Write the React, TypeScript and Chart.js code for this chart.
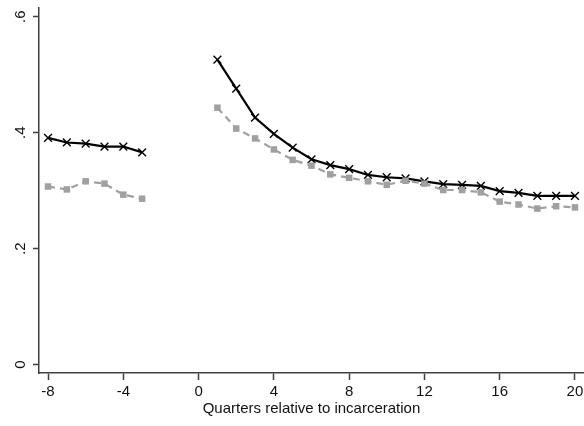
import React, { useEffect, useRef } from "react";
import { Chart, registerables } from "chart.js";

Chart.register(...registerables);

const preQuarters = [-8, -7, -6, -5, -4, -3];
const postQuarters = [1, 2, 3, 4, 5, 6, 7, 8, 9, 10, 11, 12, 13, 14, 15, 16, 17, 18, 19, 20];

const blackPre = [0.391, 0.383, 0.381, 0.376, 0.376, 0.366];
const blackPost = [0.526, 0.476, 0.426, 0.398, 0.374, 0.354, 0.344, 0.337, 0.327, 0.323, 0.321, 0.316, 0.311, 0.310, 0.308, 0.299, 0.296, 0.291, 0.291, 0.291];

const grayPre = [0.307, 0.302, 0.316, 0.312, 0.293, 0.286];
const grayPost = [0.443, 0.407, 0.390, 0.371, 0.353, 0.343, 0.328, 0.322, 0.316, 0.310, 0.317, 0.312, 0.301, 0.301, 0.297, 0.281, 0.276, 0.269, 0.273, 0.271];

const xTicks = [-8, -4, 0, 4, 8, 12, 16, 20];
const yTicks = [0, 0.2, 0.4, 0.6];
const yTickLabels = ["0", ".2", ".4", ".6"];
const xTitle = "Quarters relative to incarceration";

const FONT = "'Liberation Sans', Arial, sans-serif";
const AXIS_COLOR = "#404040";
const BLACK = "#000000";
const GRAY = "#a0a0a0";

const pts = (xs: number[], ys: number[]) => xs.map((x, i) => ({ x, y: ys[i] }));

export default function App() {
  const ref = useRef<HTMLCanvasElement | null>(null);

  useEffect(() => {
    document.body.style.margin = "0";
    const canvas = ref.current;
    if (!canvas) return;

    const yLabelPlugin = {
      id: "yLabels",
      afterDraw(chart: any) {
        const ctx = chart.ctx;
        const ys = chart.scales.y;
        ctx.save();
        ctx.fillStyle = "#111";
        ctx.font = `15px ${FONT}`;
        ctx.textAlign = "center";
        ctx.textBaseline = "middle";
        yTicks.forEach((v, i) => {
          const py = ys.getPixelForValue(v);
          ctx.save();
          ctx.translate(21, py);
          ctx.rotate(-Math.PI / 2);
          ctx.fillText(yTickLabels[i], 0, 0);
          ctx.restore();
        });
        ctx.restore();
      },
    };

    const blackStyle = {
      borderColor: BLACK,
      backgroundColor: BLACK,
      borderWidth: 2.2,
      pointStyle: "crossRot" as const,
      pointRadius: 5.5,
      pointBorderWidth: 1.4,
      pointBorderColor: BLACK,
      tension: 0,
    };
    const grayStyle = {
      borderColor: GRAY,
      backgroundColor: GRAY,
      borderWidth: 2.2,
      borderDash: [7, 5],
      pointStyle: "rect" as const,
      pointRadius: 4.6,
      pointBorderWidth: 0,
      pointBackgroundColor: GRAY,
      tension: 0,
    };

    const chart = new Chart(canvas, {
      type: "line",
      data: {
        datasets: [
          { ...grayStyle, label: "gray pre", data: pts(preQuarters, grayPre) },
          { ...grayStyle, label: "gray post", data: pts(postQuarters, grayPost) },
          { ...blackStyle, label: "black pre", data: pts(preQuarters, blackPre) },
          { ...blackStyle, label: "black post", data: pts(postQuarters, blackPost) },
        ],
      },
      options: {
        animation: false,
        responsive: false,
        maintainAspectRatio: false,
        layout: { autoPadding: false, padding: { top: 8, right: 0, left: 0, bottom: 0 } },
        plugins: {
          legend: { display: false },
          tooltip: { enabled: false },
        },
        scales: {
          x: {
            type: "linear",
            min: -8.48,
            max: 20.48,
            afterBuildTicks: (scale: any) => {
              scale.ticks = xTicks.map((v) => ({ value: v }));
            },
            afterFit: (scale: any) => {
              scale.height = 53;
              scale.paddingLeft = 0;
              scale.paddingRight = 0;
            },
            grid: {
              drawOnChartArea: false,
              drawTicks: true,
              tickLength: 7,
              tickColor: AXIS_COLOR,
              tickWidth: 1.5,
            },
            border: { display: true, color: AXIS_COLOR, width: 1.5 },
            ticks: {
              color: "#111",
              font: { family: FONT, size: 15 },
              padding: 3,
              maxRotation: 0,
              minRotation: 0,
              autoSkip: false,
            },
            title: {
              display: true,
              text: xTitle,
              color: "#111",
              font: { family: FONT, size: 15 },
              padding: { top: 0, bottom: 8 },
            },
          },
          y: {
            type: "linear",
            min: -0.0147,
            max: 0.615,
            afterBuildTicks: (scale: any) => {
              scale.ticks = yTicks.map((v) => ({ value: v }));
            },
            afterFit: (scale: any) => {
              scale.width = 39;
              scale.paddingTop = 0;
              scale.paddingBottom = 0;
            },
            grid: {
              drawOnChartArea: false,
              drawTicks: true,
              tickLength: 6,
              tickColor: AXIS_COLOR,
              tickWidth: 1.5,
            },
            border: { display: true, color: AXIS_COLOR, width: 1.5 },
            ticks: { display: false },
          },
        },
      },
      plugins: [yLabelPlugin],
    });

    return () => chart.destroy();
  }, []);

  return (
    <div style={{ width: 584, height: 426, background: "#fff" }}>
      <canvas ref={ref} width={584} height={426} style={{ display: "block" }} />
    </div>
  );
}
